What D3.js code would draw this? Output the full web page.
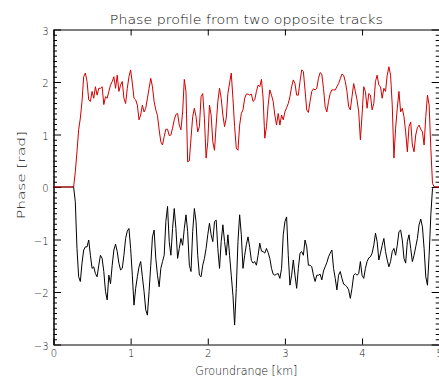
<!DOCTYPE html>
<html>
<head>
<meta charset="utf-8">
<script src="https://cdn.jsdelivr.net/npm/d3@7"></script>
<style>
  body { margin: 0; background: #fff; }
  svg { display: block; }
  text { font-family: "DejaVu Sans", sans-serif; font-weight: 300; fill: #111; }
</style>
</head>
<body>
<svg id="chart" width="439" height="376"></svg>
<script>
const title = "Phase profile from two opposite tracks";
const xTitle = "Groundrange [km]";
const yTitle = "Phase [rad]";
const xTicks = [0, 1, 2, 3, 4, 5];
const yTicks = [-3, -2, -1, 0, 1, 2, 3];

// both profiles share one ground range grid, 231 samples over 0..5 km
const sampleStep = 5 / 230;

// first track (red), phase in rad
const trackRed = [
  0, 0, 0, 0, 0, 0, 0, 0, 0, 0, 0, 0, 0,
  0.29, 0.67, 1.09, 1.31, 1.63, 2.10, 2.17, 2.01, 1.66, 1.63,
  1.82, 1.69, 1.91, 1.75, 1.88, 1.88, 1.91, 1.57, 1.72, 1.69,
  1.82, 1.94, 2.01, 2.10, 1.88, 2.13, 1.82, 1.94, 2.01, 1.69,
  1.59, 1.88, 2.10, 2.23, 1.98, 1.69, 1.66, 1.56, 1.28, 1.37,
  1.56, 1.43, 1.50, 1.69, 1.88, 2.07, 1.91, 1.63, 1.47, 1.36,
  1.09, 0.86, 0.80, 0.96, 1.10, 1.10, 0.98, 0.99, 1.12, 1.28,
  1.38, 1.40, 1.18, 1.09, 1.43, 2.05, 1.82, 0.48, 0.50, 0.93,
  1.34, 1.50, 1.34, 1.05, 1.15, 1.72, 1.78, 1.31, 0.55, 0.86,
  1.56, 1.37, 0.86, 0.70, 1.18, 1.63, 1.88, 1.69, 1.37, 1.15,
  1.31, 1.78, 1.98, 2.17, 1.69, 1.15, 0.74, 0.70, 1.18, 1.40,
  1.47, 1.69, 1.77, 1.77, 1.75, 1.77, 1.63, 1.66, 1.82, 1.94,
  1.91, 2.05, 1.69, 0.93, 1.15, 1.56, 1.85, 1.75, 1.63, 1.37,
  1.18, 1.40, 1.18, 1.37, 1.28, 1.43, 1.51, 1.59, 1.72, 1.91,
  2.04, 1.97, 1.75, 1.75, 2.01, 2.23, 2.20, 1.85, 1.47, 1.42,
  1.63, 1.82, 1.87, 1.85, 1.88, 2.07, 2.18, 2.15, 1.88, 1.53,
  1.43, 1.63, 1.78, 1.85, 1.85, 1.85, 1.91, 1.97, 2.06, 2.15,
  2.13, 2.01, 1.82, 1.53, 1.47, 1.72, 1.97, 1.82, 1.66, 1.43,
  0.90, 1.37, 1.91, 1.82, 1.50, 1.78, 1.75, 1.47, 1.59, 2.01,
  2.13, 1.94, 1.91, 1.69, 1.88, 1.82, 2.13, 2.29, 2.13, 1.56,
  0.55, 1.12, 1.50, 1.82, 1.43, 1.50, 1.34, 1.05, 0.67, 1.15,
  1.24, 0.80, 0.67, 0.99, 1.13, 1.18, 1.10, 1.05, 0.80, 1.34,
  1.75, 1.56, 0.74, 0.07, 0, 0, 0, 0
];

// opposite track (black)
const trackBlack = [
  0, 0, 0, 0, 0, 0, 0, 0, 0, 0, 0, 0, 0,
  -0.28, -1.17, -1.71, -1.80, -1.45, -1.20, -1.14, -1.14, -1.01, -1.30,
  -1.55, -1.52, -1.65, -1.71, -1.49, -1.30, -1.36, -1.61, -1.99, -2.15,
  -1.68, -1.84, -1.49, -1.20, -1.09, -1.23, -1.45, -1.58, -1.55, -1.30,
  -0.98, -0.84, -0.79, -1.17, -1.68, -2.25, -1.93, -1.71, -1.52, -1.42,
  -1.71, -1.99, -2.34, -2.44, -1.99, -1.49, -0.95, -0.82, -1.36, -1.68,
  -1.90, -1.55, -1.42, -1.30, -0.66, -0.37, -1.04, -1.30, -0.79, -0.41,
  -0.79, -1.36, -1.17, -0.98, -1.11, -0.79, -0.53, -0.85, -1.49, -1.61,
  -0.85, -0.41, -0.66, -1.30, -1.68, -1.71, -1.49, -1.36, -1.17, -0.91,
  -0.69, -0.91, -1.04, -0.66, -0.63, -1.17, -1.55, -1.04, -0.72, -1.04,
  -1.30, -0.91, -1.30, -1.68, -2.06, -2.63, -1.93, -1.04, -0.53, -0.91,
  -1.55, -1.30, -1.10, -0.95, -1.15, -1.40, -1.45, -1.42, -1.49, -1.30,
  -1.07, -1.22, -1.23, -1.26, -1.17, -1.25, -1.36, -1.55, -1.66, -1.68,
  -1.66, -1.65, -1.74, -1.55, -0.91, -0.66, -0.57, -1.30, -1.87, -1.68,
  -1.39, -1.68, -1.93, -1.55, -1.26, -1.23, -1.30, -1.01, -1.14, -1.49,
  -1.49, -1.52, -1.68, -1.80, -1.68, -1.68, -1.66, -1.77, -1.60, -1.52,
  -1.44, -1.33, -1.26, -1.20, -1.55, -1.74, -1.96, -1.68, -1.61, -1.74,
  -1.85, -1.87, -1.90, -1.96, -2.12, -1.93, -1.68, -1.65, -1.68, -1.65,
  -1.42, -1.68, -1.74, -1.55, -1.42, -1.35, -1.33, -1.26, -1.11, -0.88,
  -1.04, -1.39, -1.26, -1.11, -0.98, -1.23, -1.39, -1.52, -1.42, -1.23,
  -1.17, -1.30, -1.11, -0.85, -0.82, -1.01, -1.36, -1.45, -1.04, -0.91,
  -1.17, -1.42, -1.30, -1.14, -0.98, -0.72, -0.61, -0.76, -1.17, -1.71,
  -1.87, -1.30, -0.53, -0.03, 0, 0, 0, 0
];

const plotLeft = 53.5, plotRight = 439.2, plotTop = 29.5, plotBottom = 344.5;

const svg = d3.select("#chart");

const x = d3.scaleLinear().domain([0, 5]).range([plotLeft, plotRight]);
const y = d3.scaleLinear().domain([-3, 3]).range([plotBottom, plotTop]);

const yMinor = d3.range(-30, 31).filter((v) => v % 10 != 0).map((v) => v / 10);

const intLabel = (d) => (d < 0 ? "\u2212" + Math.abs(d) : String(d));

function styleAxis(g) {
  g.selectAll("path.domain").attr("stroke", "#000").attr("stroke-width", 1);
  g.selectAll(".tick line").attr("stroke", "#000").attr("stroke-width", 1);
  g.selectAll(".tick text")
    .attr("font-size", 10)
    .attr("fill", "#111")
    .attr("font-family", "DejaVu Sans, sans-serif");
}

// bottom + top, major ticks only
svg
  .append("g")
  .attr("transform", `translate(0, ${plotBottom})`)
  .call(
    d3
      .axisBottom(x)
      .tickValues(xTicks)
      .tickSize(-6)
      .tickSizeOuter(0)
      .tickPadding(5.5)
      .tickFormat(intLabel)
  )
  .call(styleAxis);

svg
  .append("g")
  .attr("transform", `translate(0, ${plotTop})`)
  .call(d3.axisTop(x).tickValues(xTicks).tickSize(-6).tickSizeOuter(0).tickFormat(""))
  .call(styleAxis);

// left axis with labels, minor ticks every 0.1
svg
  .append("g")
  .attr("transform", `translate(${plotLeft}, 0)`)
  .call(
    d3
      .axisLeft(y)
      .tickValues(yTicks)
      .tickSize(-7.5)
      .tickSizeOuter(0)
      .tickPadding(5)
      .tickFormat(intLabel)
  )
  .call(styleAxis)
  .selectAll(".tick text")
  .attr("dy", "0.45em");

svg
  .append("g")
  .attr("transform", `translate(${plotLeft}, 0)`)
  .call(d3.axisLeft(y).tickValues(yMinor).tickSize(-3.5).tickSizeOuter(0).tickFormat(""))
  .call(styleAxis);

svg
  .append("g")
  .attr("transform", `translate(${plotRight}, 0)`)
  .call(d3.axisRight(y).tickValues(yTicks).tickSize(-7.5).tickSizeOuter(0).tickFormat(""))
  .call(styleAxis);

svg
  .append("g")
  .attr("transform", `translate(${plotRight}, 0)`)
  .call(d3.axisRight(y).tickValues(yMinor).tickSize(-3.5).tickSizeOuter(0).tickFormat(""))
  .call(styleAxis);

const line = d3
  .line()
  .x((_d, i) => x(i * sampleStep))
  .y((d) => y(d));

svg
  .append("path")
  .datum(trackBlack)
  .attr("fill", "none")
  .attr("stroke", "#000")
  .attr("stroke-width", 1)
  .attr("d", line);

svg
  .append("path")
  .datum(trackRed)
  .attr("fill", "none")
  .attr("stroke", "#d40000")
  .attr("stroke-width", 1)
  .attr("d", line);

// titles are stretched to the width of the original's wide stroke font
svg
  .append("text")
  .attr("x", (plotLeft + plotRight) / 2)
  .attr("y", 23.5)
  .attr("text-anchor", "middle")
  .attr("font-size", 11.5)
  .attr("textLength", 273)
  .attr("lengthAdjust", "spacingAndGlyphs")
  .text(title);

svg
  .append("text")
  .attr("x", (plotLeft + plotRight) / 2)
  .attr("y", 375)
  .attr("text-anchor", "middle")
  .attr("font-size", 11.5)
  .attr("textLength", 102)
  .attr("lengthAdjust", "spacingAndGlyphs")
  .text(xTitle);

svg
  .append("text")
  .attr("transform", "translate(24.5, 175) rotate(-90)")
  .attr("text-anchor", "middle")
  .attr("font-size", 10.5)
  .attr("textLength", 88)
  .attr("lengthAdjust", "spacingAndGlyphs")
  .text(yTitle);
</script>
</body>
</html>
